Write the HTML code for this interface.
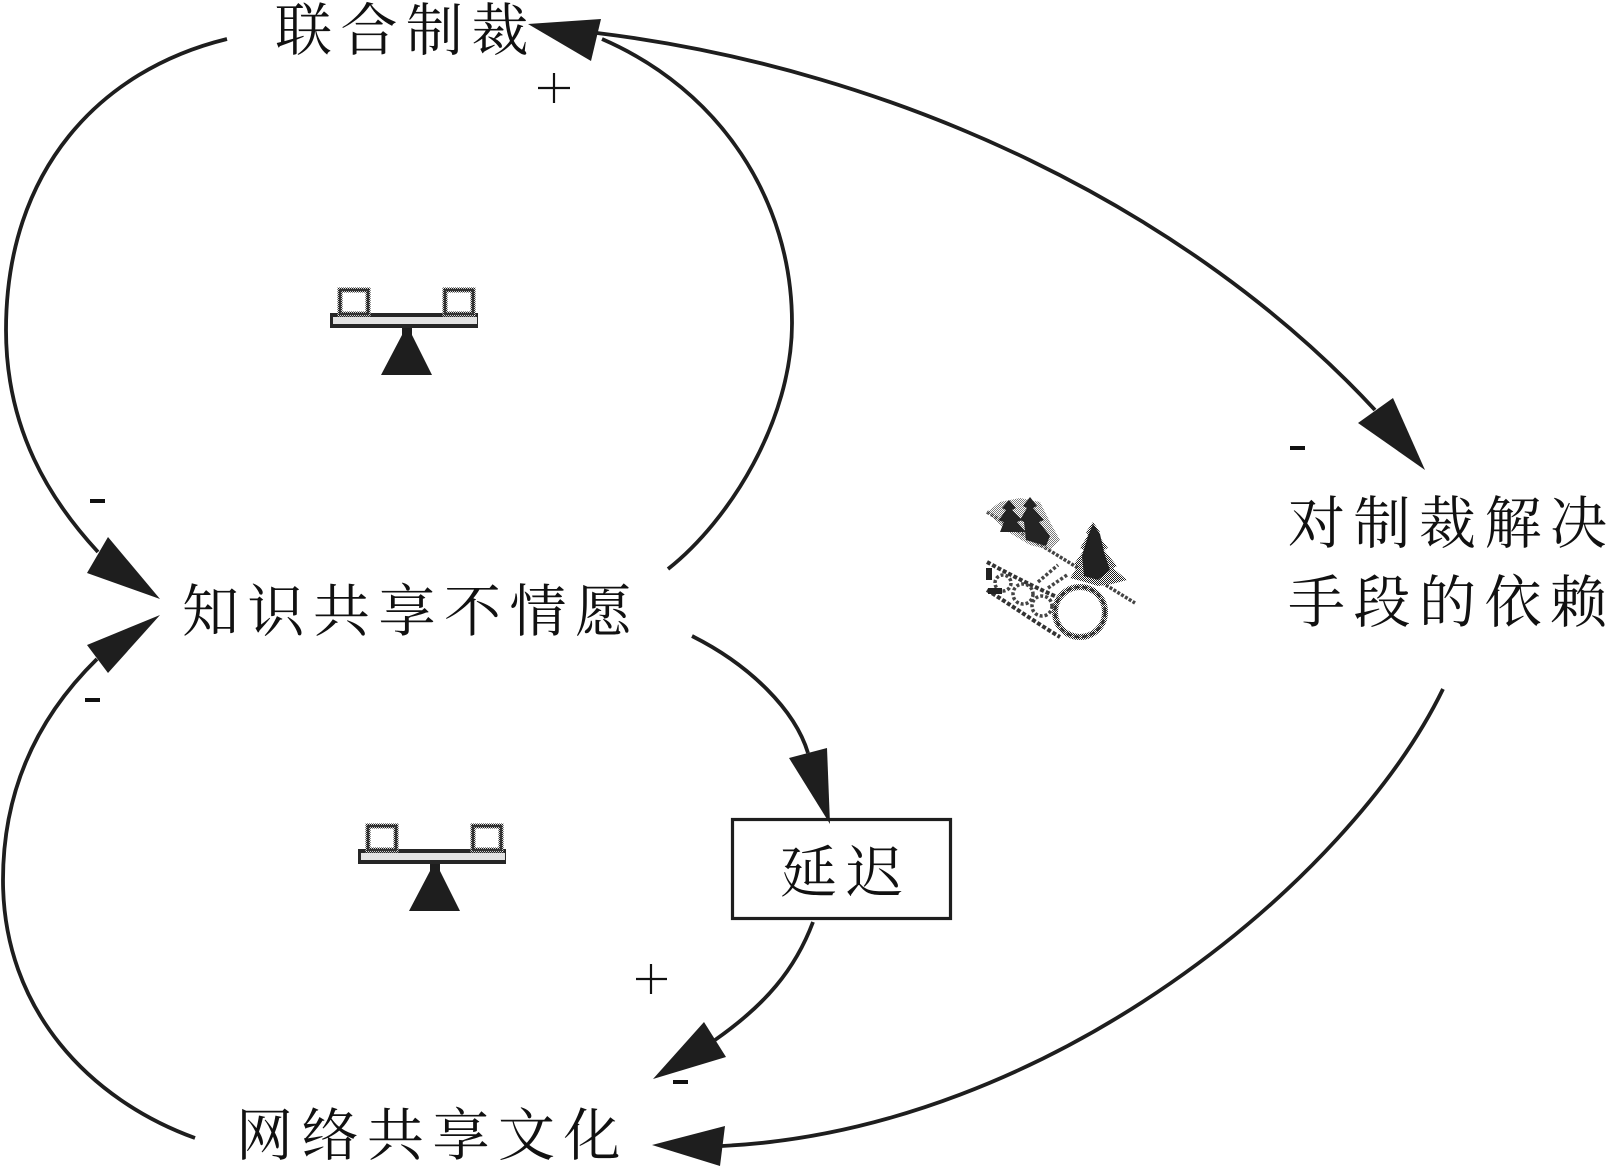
<!DOCTYPE html>
<html>
<head>
<meta charset="utf-8">
<style>
  html, body { margin:0; padding:0; background:#fff; }
  body { width:1607px; height:1167px; overflow:hidden; }
  svg { display:block; }
  .lbl { font-family: "Liberation Serif", "Noto Serif CJK SC", serif; font-size:57px; fill:#111; }
</style>
</head>
<body>
<svg width="1607" height="1167" viewBox="0 0 1607 1167" xmlns="http://www.w3.org/2000/svg">
  <defs>
    <pattern id="dith" width="2" height="2" patternUnits="userSpaceOnUse">
      <rect width="2" height="2" fill="#ffffff"/>
      <rect width="1" height="1" fill="#1e1e1e"/>
      <rect x="1" y="1" width="1" height="1" fill="#1e1e1e"/>
    </pattern>
  </defs>
  <rect x="0" y="0" width="1607" height="1167" fill="#fff"/>

  <!-- connectors -->
  <g fill="none" stroke="#1e1e1e" stroke-width="3.8">
    <path d="M227,39 C100,70 6,170 6,330 C6,430 50,500 98,552"/>
    <path d="M195,1138 C90,1100 3,1010 3,880 C3,780 45,710 97,659"/>
    <path d="M668,569 C730,520 792,420 792,323 C792,200 720,90 602,39"/>
    <path d="M597,33 C900,70 1190,210 1375,410"/>
    <path d="M1443,689 C1350,880 1050,1130 722,1146"/>
    <path d="M692,636 C750,665 795,710 808,753"/>
    <path d="M813,922 C795,970 765,1005 715,1040"/>
  </g>

  <!-- arrowheads -->
  <g fill="#1e1e1e" stroke="none">
    <polygon points="528,24 601,19 591,61"/>
    <polygon points="1425,470 1358,423 1393,398"/>
    <polygon points="160,599 108,537 87,573"/>
    <polygon points="160,615 87,645 108,673"/>
    <polygon points="830,824 789,758 827,748"/>
    <polygon points="653,1079 704,1022 726,1057"/>
    <polygon points="652,1145 725,1126 720,1166"/>
  </g>

  <!-- delay box -->
  <rect x="732.5" y="819.5" width="218" height="99" fill="none" stroke="#1e1e1e" stroke-width="3.2"/>

  <!-- labels -->
  <text class="lbl" x="275 340.5 406 471.5" y="50">联合制裁</text>
  <text class="lbl" x="182 247.5 313 378.5 444 509.5 575" y="631">知识共享不情愿</text>
  <text class="lbl" x="236 301.5 367 432.5 498 563.5" y="1155">网络共享文化</text>
  <text class="lbl" x="1288 1353.5 1419 1484.5 1550" y="543">对制裁解决</text>
  <text class="lbl" x="1288 1353.5 1419 1484.5 1550" y="622">手段的依赖</text>
  <text class="lbl" x="780 846" y="892">延迟</text>

  <!-- polarity signs -->
  <g fill="#111">
    <rect x="90" y="499" width="15" height="4"/>
    <rect x="85" y="698" width="15" height="4"/>
    <rect x="1290" y="446" width="15" height="4"/>
    <rect x="673" y="1080" width="15" height="4"/>
  </g>
  <g stroke="#111" stroke-width="2.2">
    <line x1="538" y1="88" x2="570" y2="88"/>
    <line x1="554" y1="73" x2="554" y2="103"/>
    <line x1="636" y1="979" x2="667" y2="979"/>
    <line x1="651" y1="964" x2="651" y2="994"/>
  </g>

  <!-- balancing loop icon (seesaw) -->
  <g>
    <rect x="330" y="313" width="148" height="15" fill="#262626"/>
    <rect x="333" y="317" width="144" height="7" fill="#e2e2e2"/>
    <rect x="340" y="290" width="28" height="24" fill="none" stroke="url(#dith)" stroke-width="5"/>
    <rect x="445" y="290" width="28" height="24" fill="none" stroke="url(#dith)" stroke-width="5"/>
    <rect x="340" y="290" width="28" height="24" fill="none" stroke="#333" stroke-width="2.5"/>
    <rect x="445" y="290" width="28" height="24" fill="none" stroke="#333" stroke-width="2.5"/>
    <polygon points="402,328 412,328 412,335 432,375 381,375 402,335" fill="#1e1e1e"/>
  </g>
  <g transform="translate(28,536)">
    <rect x="330" y="313" width="148" height="15" fill="#262626"/>
    <rect x="333" y="317" width="144" height="7" fill="#e2e2e2"/>
    <rect x="340" y="290" width="28" height="24" fill="none" stroke="url(#dith)" stroke-width="5"/>
    <rect x="445" y="290" width="28" height="24" fill="none" stroke="url(#dith)" stroke-width="5"/>
    <rect x="340" y="290" width="28" height="24" fill="none" stroke="#333" stroke-width="2.5"/>
    <rect x="445" y="290" width="28" height="24" fill="none" stroke="#333" stroke-width="2.5"/>
    <polygon points="402,328 412,328 412,335 432,375 381,375 402,335" fill="#1e1e1e"/>
  </g>

  <!-- reinforcing loop icon (snowball) -->
  <g>
    <!-- slope line -->
    <line x1="987" y1="512" x2="1135" y2="603" stroke="#444" stroke-width="3.5" stroke-dasharray="3 1.5"/>
    <!-- slanted tree cluster: gray haze -->
    <polygon points="987,512 1000,502 1020,498 1040,502 1050,522 1060,540 1050,550 1030,545 1005,530" fill="url(#dith)" opacity="0.6"/>
    <!-- pine A -->
    <polygon points="1009,500 1016,508 1012,510 1022,520 1017,522 1026,532 1000,532 1004,522 999,520 1006,510 1002,508" fill="#242424"/>
    <!-- pine B -->
    <polygon points="1030,497 1037,506 1033,508 1044,520 1039,522 1050,536 1046,546 1026,540 1024,522 1020,520 1027,508 1023,506" fill="#242424"/>
    <!-- upright pine -->
    <polygon points="1093,522 1100,532 1098,535 1108,548 1104,550 1117,566 1113,568 1127,580 1112,584 1098,586 1085,582 1070,578 1078,566 1074,564 1084,550 1080,548 1088,535 1086,532" fill="url(#dith)"/>
    <polygon points="1093,524 1100,534 1104,552 1110,570 1098,580 1084,576 1082,556 1088,536" fill="#222"/>
    <!-- ball -->
    <circle cx="1080" cy="612" r="25" fill="none" stroke="url(#dith)" stroke-width="6"/>
    <circle cx="1080" cy="612" r="25" fill="none" stroke="#333" stroke-width="2.5" stroke-dasharray="5 3"/>
    <!-- rolling trail -->
    <path d="M987,562 C1005,572 1030,585 1057,597" fill="none" stroke="#333" stroke-width="4" stroke-dasharray="4 2"/>
    <path d="M987,590 C1008,603 1035,622 1060,637" fill="none" stroke="#333" stroke-width="4" stroke-dasharray="4 2"/>
    <circle cx="1003" cy="583" r="8" fill="none" stroke="#444" stroke-width="3.5" stroke-dasharray="3 2"/>
    <circle cx="1023" cy="594" r="10" fill="none" stroke="#444" stroke-width="3.5" stroke-dasharray="3 2"/>
    <circle cx="1042" cy="606" r="10" fill="none" stroke="#444" stroke-width="3.5" stroke-dasharray="3 2"/>
    <line x1="1038" y1="582" x2="1058" y2="565" stroke="#444" stroke-width="3.5" stroke-dasharray="3 2"/>
    <line x1="1048" y1="588" x2="1067" y2="575" stroke="#444" stroke-width="3.5" stroke-dasharray="3 2"/>
    <rect x="986" y="568" width="6" height="12" fill="#222"/>
    <rect x="988" y="588" width="14" height="6" fill="#222"/>
  </g>
</svg>
</body>
</html>
